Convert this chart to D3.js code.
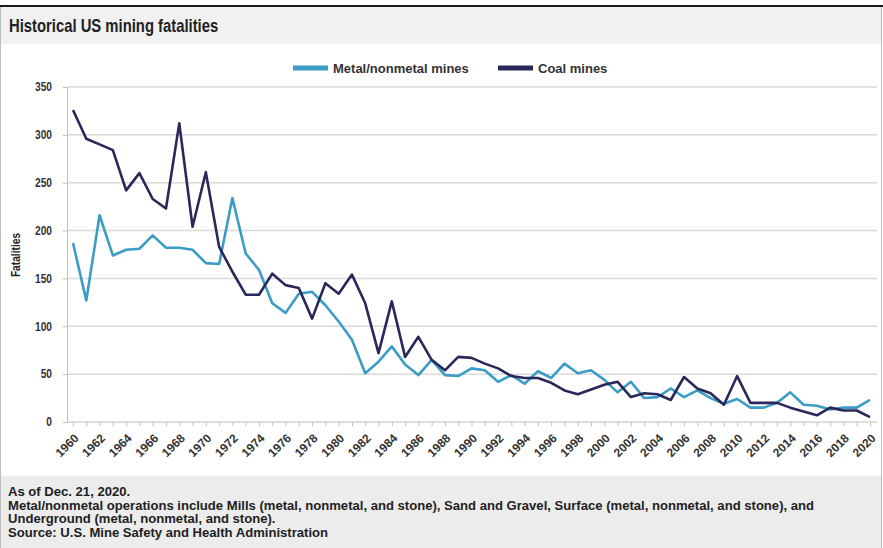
<!DOCTYPE html>
<html>
<head>
<meta charset="utf-8">
<script src="https://cdn.jsdelivr.net/npm/d3@7"></script>
<style>
  body { margin: 0; background: #fff; }
  svg text { font-family: "Liberation Sans", Arial, sans-serif; }
</style>
</head>
<body>
<div id="chart"></div>
<script>
// Data
const years = d3.range(1960, 2021);
const metalMines = [187, 127, 216, 174, 180, 181, 195, 182, 182, 180, 166, 165, 234, 176, 159, 124, 114, 134, 136, 122,
    105, 86, 51, 63, 79, 60, 49, 65, 49, 48, 56, 54, 42, 49, 40, 53, 46, 61, 51, 54,
    44, 31, 42, 25, 26, 35, 26, 33, 25, 19, 24, 15, 15, 20, 31, 18, 17, 13, 15, 15, 23];
const coalMines = [326, 296, 290, 284, 242, 260, 233, 223, 312, 204, 261, 183, 157, 133, 133, 155, 143, 140, 108, 145,
    134, 154, 124, 72, 126, 68, 89, 65, 54, 68, 67, 61, 56, 48, 46, 46, 41, 33, 29, 34,
    39, 42, 26, 30, 29, 23, 47, 35, 30, 18, 48, 20, 20, 20, 15, 11, 7, 15, 12, 12, 5];
const yTicks = [0, 50, 100, 150, 200, 250, 300, 350];
const seriesNames = ['Metal/nonmetal mines', 'Coal mines'];
const footnotes = [
    'As of Dec. 21, 2020.',
    'Metal/nonmetal operations include Mills (metal, nonmetal, and stone), Sand and Gravel, Surface (metal, nonmetal, and stone), and',
    'Underground (metal, nonmetal, and stone).',
    'Source: U.S. Mine Safety and Health Administration'
];

const W = 883, H = 548;
const colors = { metal: '#3b9cc6', coal: '#29285a' };

const svg = d3.select('#chart').append('svg')
    .attr('width', W)
    .attr('height', H);

// squeeze text horizontally to a narrower look (source font is condensed)
function squeeze(sel, k) {
    sel.each(function () {
        const len = this.getComputedTextLength();
        d3.select(this).attr('textLength', len * k).attr('lengthAdjust', 'spacingAndGlyphs');
    });
}

// Frame + bands
svg.append('rect').attr('x', 0.5).attr('y', 6).attr('width', W - 2).attr('height', H - 6)
    .attr('fill', '#fff').attr('stroke', '#bdbdbd');
svg.append('rect').attr('x', 1).attr('y', 7).attr('width', W - 3).attr('height', 37).attr('fill', '#f1f1f1');
svg.append('line').attr('x1', 0).attr('x2', W).attr('y1', 6).attr('y2', 6)
    .attr('stroke', '#1a1a1a').attr('stroke-width', 2);
svg.append('rect').attr('x', 1).attr('y', 476).attr('width', W - 3).attr('height', H - 476).attr('fill', '#ececec');

svg.append('text')
    .attr('x', 9).attr('y', 32)
    .attr('font-size', 19).attr('font-weight', 'bold').attr('fill', '#222')
    .text('Historical US mining fatalities')
    .call(squeeze, 0.78);

// Scales
const x = d3.scaleLinear().domain([1960, 2020]).range([73, 870]);
const y = d3.scaleLinear().domain([0, 350]).range([422, 87]);

// Grid
svg.append('g')
    .selectAll('line')
    .data(yTicks.filter(d => d > 0))
    .join('line')
    .attr('x1', 67).attr('x2', 877)
    .attr('y1', d => y(d)).attr('y2', d => y(d))
    .attr('stroke', '#dadada').attr('stroke-width', 1.5);

// Axes
const yAxisG = svg.append('g')
    .attr('transform', 'translate(67,0)')
    .call(d3.axisLeft(y).tickValues(yTicks).tickSize(4).tickPadding(11));
yAxisG.selectAll('text').attr('font-size', 12).attr('font-weight', 'bold').attr('fill', '#333')
    .call(squeeze, 0.85);
yAxisG.selectAll('line, path').attr('stroke', '#bfbfbf');

const xAxisG = svg.append('g')
    .attr('transform', 'translate(0,422)')
    .call(d3.axisBottom(x).tickValues(years).tickSize(4).tickSizeOuter(0)
        .tickFormat(d => d % 2 === 0 ? d : ''));
xAxisG.select('.domain').attr('d', 'M67,0H877').attr('stroke', '#bfbfbf');
xAxisG.selectAll('line').attr('stroke', '#bfbfbf');
xAxisG.selectAll('text')
    .attr('font-size', 12).attr('font-weight', 'bold').attr('fill', '#333')
    .attr('text-anchor', 'end')
    .attr('dy', '0.35em')
    .attr('transform', 'translate(-2,9) rotate(-45)');

svg.append('text')
    .attr('transform', 'translate(20,255) rotate(-90)')
    .attr('text-anchor', 'middle')
    .attr('font-size', 12).attr('font-weight', 'bold').attr('fill', '#222')
    .text('Fatalities')
    .call(squeeze, 0.85);

// Lines
const line = d3.line().x((d, i) => x(years[i])).y(d => y(d));
[[metalMines, colors.metal], [coalMines, colors.coal]].forEach(([vals, c]) => {
    svg.append('path')
        .datum(vals)
        .attr('d', line)
        .attr('fill', 'none')
        .attr('stroke', c)
        .attr('stroke-width', 2.6)
        .attr('stroke-linejoin', 'round');
});

// Legend
const legend = [
    { name: seriesNames[0], color: colors.metal, x: 293 },
    { name: seriesNames[1], color: colors.coal, x: 498 }
];
const lg = svg.append('g').selectAll('g').data(legend).join('g')
    .attr('transform', d => `translate(${d.x},68)`);
lg.append('rect').attr('x', 0).attr('y', -2.5).attr('width', 35).attr('height', 5).attr('fill', d => d.color);
lg.append('text').attr('x', 40).attr('dy', '0.35em').attr('font-size', 13).attr('font-weight', 'bold').attr('fill', '#333')
    .text(d => d.name);

// Footnotes
svg.append('g').selectAll('text').data(footnotes).join('text')
    .attr('x', 8)
    .attr('y', (d, i) => 496 + i * 13.5)
    .attr('font-size', 12).attr('font-weight', 'bold').attr('fill', '#222')
    .text(d => d)
    .call(squeeze, 1.09);
</script>
</body>
</html>
